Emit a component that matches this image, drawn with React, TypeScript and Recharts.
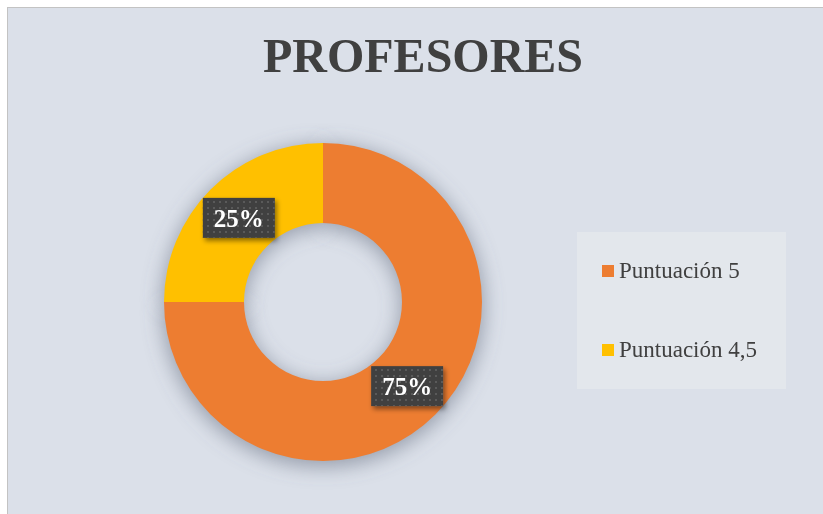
import React from 'react';
import { PieChart, Pie, Cell, Legend } from 'recharts';

const categories = ['Puntuación 5', 'Puntuación 4,5'];
const values = [75, 25];
const labels = ['75%', '25%'];
const colors = ['#ED7D31', '#FFC000'];

const data = categories.map((name, i) => ({ name, value: values[i], label: labels[i] }));

const RADIAN = Math.PI / 180;
const serif = '"Liberation Serif", "Times New Roman", serif';

const renderLabel = (props: any) => {
  const { cx, cy, midAngle, innerRadius, outerRadius, index } = props;
  const r = (innerRadius + outerRadius) / 2;
  const x = cx + r * Math.cos(-midAngle * RADIAN);
  const y = cy + r * Math.sin(-midAngle * RADIAN);
  const w = 72;
  const h = 40;
  return (
    <g>
      <rect x={x - w / 2} y={y - h / 2} width={w} height={h} fill="#404040" filter="url(#boxShadow)" />
      <rect x={x - w / 2} y={y - h / 2} width={w} height={h} fill="url(#dots)" />
      <text
        x={x}
        y={y + 9}
        textAnchor="middle"
        fill="#ffffff"
        fontFamily={serif}
        fontWeight="bold"
        fontSize={25}
      >
        {data[index].label}
      </text>
    </g>
  );
};

const renderLegend = () => (
  <div style={{ position: 'relative', width: 209, height: 157, background: '#e3e7ec' }}>
    {categories.map((name, i) => (
      <div
        key={name}
        style={{
          position: 'absolute',
          left: 25,
          top: i === 0 ? 27 : 106,
          display: 'flex',
          alignItems: 'flex-start',
          fontFamily: serif,
          fontSize: 23,
          lineHeight: '23px',
          color: '#404040',
          whiteSpace: 'nowrap',
        }}
      >
        <span style={{ width: 12, height: 12, marginTop: 6, marginRight: 5, background: colors[i], display: 'inline-block' }} />
        {name}
      </div>
    ))}
  </div>
);

export default function App() {
  return (
    <div style={{ position: 'fixed', left: 0, top: 0, width: 823, height: 514, background: '#ffffff' }}>
      <svg width="0" height="0" style={{ position: 'absolute' }}>
        <defs>
          <pattern id="dots" x="0" y="0" width="6" height="6" patternUnits="userSpaceOnUse">
            <rect x="1" y="1" width="2" height="2" fill="#5a5a5a" />
          </pattern>
          <filter id="boxShadow" x="-30%" y="-30%" width="160%" height="180%">
            <feDropShadow dx="2" dy="3" stdDeviation="2.5" floodColor="#000" floodOpacity="0.45" />
          </filter>
          <filter id="ringBlur" x="-30%" y="-30%" width="160%" height="160%">
            <feGaussianBlur stdDeviation="10" />
          </filter>
        </defs>
      </svg>
      <div
        style={{
          position: 'absolute',
          left: 7,
          top: 7,
          width: 816,
          height: 507,
          borderLeft: '1px solid #c3c3c3',
          borderTop: '1px solid #c3c3c3',
          background: '#dbe0e9',
        }}
      >
        <div
          style={{
            position: 'absolute',
            left: 0,
            top: 24,
            width: 830,
            textAlign: 'center',
            fontFamily: serif,
            fontWeight: 'bold',
            fontSize: 48,
            lineHeight: '48px',
            color: '#404040',
          }}
        >
          PROFESORES
        </div>
        <PieChart
          width={815}
          height={506}
          margin={{ top: 0, right: 0, bottom: 0, left: 0 }}
          style={{ position: 'absolute', left: 0, top: 0 }}
        >
          <Pie
            data={data}
            dataKey="value"
            nameKey="name"
            cx={315}
            cy={298}
            innerRadius={78}
            outerRadius={161}
            startAngle={90}
            endAngle={-270}
            stroke="none"
            legendType="none"
            isAnimationActive={false}
          >
            {data.map((d) => (
              <Cell key={`shadow-${d.name}`} fill="#5f687a" fillOpacity={0.55} filter="url(#ringBlur)" />
            ))}
          </Pie>
          <Pie
            data={data}
            dataKey="value"
            nameKey="name"
            cx={315}
            cy={294}
            innerRadius={79}
            outerRadius={159}
            startAngle={90}
            endAngle={-270}
            stroke="none"
            label={renderLabel}
            labelLine={false}
            isAnimationActive={false}
          >
            {data.map((d, i) => (
              <Cell key={`cell-${d.name}`} fill={colors[i]} />
            ))}
          </Pie>
          <Legend
            content={renderLegend}
            wrapperStyle={{ position: 'absolute', left: 569, top: 224, width: 209, height: 157 }}
          />
        </PieChart>
      </div>
    </div>
  );
}
